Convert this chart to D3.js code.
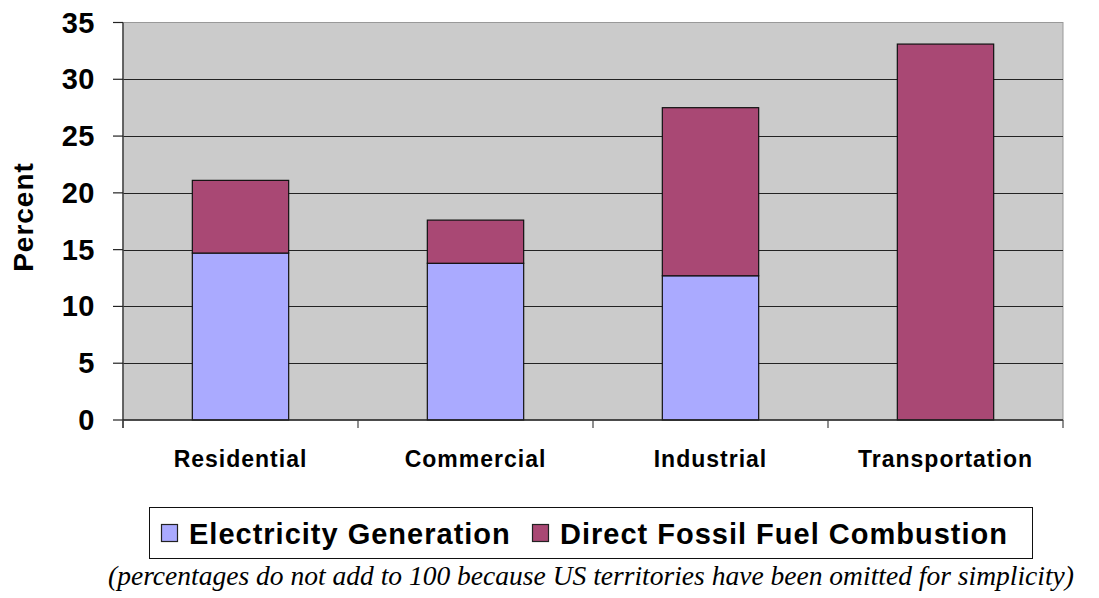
<!DOCTYPE html>
<html>
<head>
<meta charset="utf-8">
<script src="https://cdn.jsdelivr.net/npm/d3@7"></script>
<style>
  body { margin: 0; background: #fff; }
</style>
</head>
<body>
<div id="chart"></div>
<script>
// chart data
const categories = ["Residential", "Commercial", "Industrial", "Transportation"];
const electricity = [14.7, 13.8, 12.7, 0];
const fossil = [6.4, 3.8, 14.8, 33.1];
const seriesNames = ["Electricity Generation", "Direct Fossil Fuel Combustion"];
const seriesColors = ["#AAAAFF", "#A94874"];
const yTicks = [0, 5, 10, 15, 20, 25, 30, 35];
const note = "(percentages do not add to 100 because US territories have been omitted for simplicity)";

const width = 1099, height = 598;
const plot = {left: 123, right: 1063, top: 22.5, bottom: 420};
const sans = "'Liberation Sans', Arial, sans-serif";

const svg = d3.select("#chart").append("svg")
    .attr("width", width).attr("height", height)
    .style("font-family", sans);

const x = d3.scaleBand().domain(categories).range([plot.left, plot.right]).padding(0);
const y = d3.scaleLinear().domain([0, 35]).range([plot.bottom, plot.top]);
const barW = x.bandwidth() * 0.41;

// plot background
svg.append("rect")
    .attr("x", plot.left).attr("y", plot.top)
    .attr("width", plot.right - plot.left).attr("height", plot.bottom - plot.top)
    .attr("fill", "#CBCBCB").attr("stroke", "#999").attr("stroke-width", 1);

// gridlines
svg.append("g").selectAll("line")
    .data(yTicks.filter(d => d > 0 && d < 35))
    .enter().append("line")
    .attr("x1", plot.left).attr("x2", plot.right)
    .attr("y1", d => Math.round(y(d)) + 0.5).attr("y2", d => Math.round(y(d)) + 0.5)
    .attr("stroke", "#222").attr("stroke-width", 1.2);

// stacked bars
const stack = categories.map((c, i) => [
    {c: c, y0: 0, y1: electricity[i], s: 0},
    {c: c, y0: electricity[i], y1: electricity[i] + fossil[i], s: 1}
]).flat().filter(d => d.y1 > d.y0);

svg.append("g").selectAll("rect")
    .data(stack)
    .enter().append("rect")
    .attr("x", d => x(d.c) + (x.bandwidth() - barW) / 2)
    .attr("y", d => y(d.y1))
    .attr("width", barW)
    .attr("height", d => y(d.y0) - y(d.y1))
    .attr("fill", d => seriesColors[d.s])
    .attr("stroke", "#111").attr("stroke-width", 1.2);

// y axis
const yAxis = svg.append("g");
yAxis.append("line")
    .attr("x1", plot.left).attr("x2", plot.left)
    .attr("y1", plot.top).attr("y2", plot.bottom + 8)
    .attr("stroke", "#444").attr("stroke-width", 1.5);
yAxis.selectAll(".tick")
    .data(yTicks)
    .enter().append("line")
    .attr("x1", plot.left - 10).attr("x2", plot.left)
    .attr("y1", d => y(d)).attr("y2", d => y(d))
    .attr("stroke", "#222").attr("stroke-width", 1.2);
yAxis.selectAll("text")
    .data(yTicks)
    .enter().append("text")
    .attr("x", 95).attr("y", d => y(d) + 10)
    .attr("text-anchor", "end")
    .attr("font-size", 29).attr("font-weight", "bold")
    .attr("letter-spacing", 0.5)
    .text(d => d);

svg.append("text")
    .attr("transform", "translate(33,217) rotate(-90)")
    .attr("text-anchor", "middle")
    .attr("font-size", 28).attr("font-weight", "bold")
    .attr("letter-spacing", 1)
    .text("Percent");

// x axis
const xAxis = svg.append("g");
xAxis.append("line")
    .attr("x1", plot.left).attr("x2", plot.right)
    .attr("y1", plot.bottom).attr("y2", plot.bottom)
    .attr("stroke", "#222").attr("stroke-width", 1.5);
const bounds = categories.map(c => x(c)).concat([plot.right]);
xAxis.selectAll(".tick")
    .data(bounds)
    .enter().append("line")
    .attr("x1", d => d).attr("x2", d => d)
    .attr("y1", plot.bottom).attr("y2", plot.bottom + 8)
    .attr("stroke", "#444").attr("stroke-width", 1.2);
xAxis.selectAll("text")
    .data(categories)
    .enter().append("text")
    .attr("x", d => x(d) + x.bandwidth() / 2).attr("y", 467)
    .attr("text-anchor", "middle")
    .attr("font-size", 23).attr("font-weight", "bold")
    .attr("letter-spacing", 1)
    .text(d => d);

// legend
const legend = svg.append("g");
legend.append("rect")
    .attr("x", 149.5).attr("y", 507.5).attr("width", 883).attr("height", 51)
    .attr("fill", "#fff").attr("stroke", "#111").attr("stroke-width", 1);
const legX = [161, 532];
seriesNames.forEach((n, i) => {
    legend.append("rect")
        .attr("x", legX[i] + 0.5).attr("y", 524.5).attr("width", 16).attr("height", 17)
        .attr("fill", seriesColors[i]).attr("stroke", "#222").attr("stroke-width", 1.2);
    legend.append("text")
        .attr("x", legX[i] + 28).attr("y", 544)
        .attr("font-size", 29).attr("font-weight", "bold")
        .attr("letter-spacing", 1)
        .text(n);
});

// footnote
svg.append("text")
    .attr("x", 108).attr("y", 585)
    .style("font-family", "'Liberation Serif', 'DejaVu Serif', serif")
    .style("font-style", "italic")
    .attr("font-size", 28)
    .attr("textLength", 966).attr("lengthAdjust", "spacingAndGlyphs")
    .text(note);
</script>
</body>
</html>
